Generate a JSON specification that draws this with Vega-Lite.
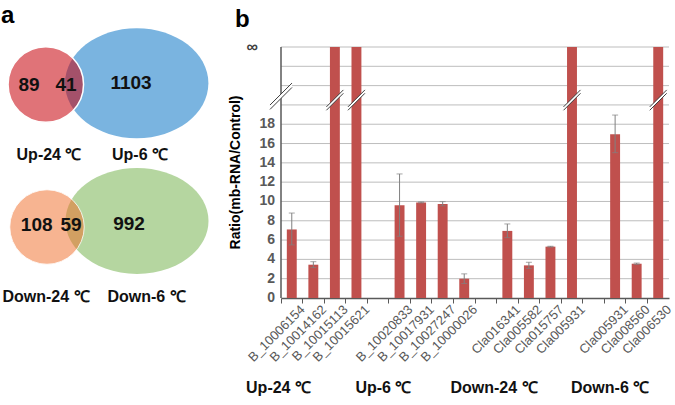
{
  "$schema": "https://vega.github.io/schema/vega-lite/v6.json",
  "padding": {"left": 0, "top": 4, "right": 0, "bottom": 0},
  "config": {
    "font": "Liberation Sans",
    "view": {"stroke": null},
    "concat": {"spacing": 8},
    "axisX": {"grid": false, "labelOverlap": false, "labelFontSize": 13, "labelColor": "#595959", "tickSize": 5, "tickColor": "#595959", "domainColor": "#595959", "domainWidth": 1.5}
  },
  "datasets": {
    "venn": [
      {"set": "Up-24 ℃", "x": 4.58, "y": 21.35},
      {"set": "Up-6 ℃", "x": 13.67, "y": 21.47},
      {"set": "Down-24 ℃", "x": 4.7, "y": 7.1},
      {"set": "Down-6 ℃", "x": 13.7, "y": 7.7}
    ],
    "counts": [
      {"n": "89", "x": 2.9, "y": 21.3},
      {"n": "41", "x": 6.6, "y": 21.3},
      {"n": "1103", "x": 13.1, "y": 21.55},
      {"n": "108", "x": 3.67, "y": 7.3},
      {"n": "59", "x": 7.1, "y": 7.3},
      {"n": "992", "x": 12.9, "y": 7.45}
    ],
    "setlabels": [
      {"label": "Up-24 ℃", "x": 4.9, "y": 14.3},
      {"label": "Up-6 ℃", "x": 14.0, "y": 14.3},
      {"label": "Down-24 ℃", "x": 4.6, "y": 0.1},
      {"label": "Down-6 ℃", "x": 14.65, "y": 0.1}
    ],
    "bars": [
      {"k": "B_10006154", "ratio": 7.1, "lo": 5.5, "hi": 8.8, "inf": false},
      {"k": "B_10014162", "ratio": 3.45, "lo": 3.15, "hi": 3.76, "inf": false},
      {"k": "B_10015113", "ratio": 26, "lo": null, "hi": null, "inf": true},
      {"k": "B_10015621", "ratio": 26, "lo": null, "hi": null, "inf": true},
      {"k": "B_10020833", "ratio": 9.6, "lo": 6.4, "hi": 12.85, "inf": false},
      {"k": "B_10017931", "ratio": 9.9, "lo": 9.85, "hi": 9.95, "inf": false},
      {"k": "B_10027247", "ratio": 9.75, "lo": 9.55, "hi": 9.98, "inf": false},
      {"k": "B_10000026", "ratio": 2.0, "lo": 1.5, "hi": 2.5, "inf": false},
      {"k": "Cla016341", "ratio": 6.95, "lo": 6.25, "hi": 7.67, "inf": false},
      {"k": "Cla005582", "ratio": 3.38, "lo": 3.05, "hi": 3.7, "inf": false},
      {"k": "Cla015757", "ratio": 5.32, "lo": 5.28, "hi": 5.36, "inf": false},
      {"k": "Cla005931|a", "ratio": 26, "lo": null, "hi": null, "inf": true},
      {"k": "Cla005931|b", "ratio": 16.97, "lo": 15.05, "hi": 18.95, "inf": false},
      {"k": "Cla008560", "ratio": 3.55, "lo": 3.48, "hi": 3.62, "inf": false},
      {"k": "Cla006530", "ratio": 26, "lo": null, "hi": null, "inf": true}
    ],
    "gridv": [{"g": 2}, {"g": 4}, {"g": 6}, {"g": 8}, {"g": 10}, {"g": 12}, {"g": 14}, {"g": 16}, {"g": 18}, {"g": 20}, {"g": 22}, {"g": 24}, {"g": 26}],
    "ylabels": [
      {"v": 0, "lab": "0"}, {"v": 2, "lab": "2"}, {"v": 4, "lab": "4"}, {"v": 6, "lab": "6"}, {"v": 8, "lab": "8"},
      {"v": 10, "lab": "10"}, {"v": 12, "lab": "12"}, {"v": 14, "lab": "14"}, {"v": 16, "lab": "16"}, {"v": 18, "lab": "18"}
    ],
    "groups": [
      {"g": "Up-24 ℃", "k": "B_10006154"},
      {"g": "Up-6 ℃", "k": "|1"},
      {"g": "Down-24 ℃", "k": "Cla016341"},
      {"g": "Down-6 ℃", "k": "Cla005931|b"}
    ]
  },
  "hconcat": [
    {
      "width": 220,
      "height": 251,
      "layer": [
        {
          "data": {"name": "venn"},
          "transform": [{"filter": "datum.set == 'Up-6 ℃'"}],
          "mark": {"type": "point", "shape": "M-1,0A1,0.767,0,1,0,1,0A1,0.767,0,1,0,-1,0Z", "size": 20564, "filled": true, "fill": "#7AB4E0", "opacity": 1, "strokeWidth": 0},
          "encoding": {
            "x": {"field": "x", "type": "quantitative", "scale": {"domain": [0, 22], "nice": false, "zero": false}, "axis": null},
            "y": {"field": "y", "type": "quantitative", "scale": {"domain": [0, 25.1], "nice": false, "zero": false}, "axis": null}
          }
        },
        {
          "data": {"name": "venn"},
          "transform": [{"filter": "datum.set == 'Up-24 ℃'"}],
          "mark": {"type": "point", "shape": "circle", "size": 5701, "filled": true, "fill": "#C70009", "fillOpacity": 0.55, "opacity": 1, "stroke": "#ffffff", "strokeWidth": 1.5, "strokeOpacity": 1},
          "encoding": {
            "x": {"field": "x", "type": "quantitative", "axis": null},
            "y": {"field": "y", "type": "quantitative", "axis": null}
          }
        },
        {
          "data": {"name": "venn"},
          "transform": [{"filter": "datum.set == 'Down-6 ℃'"}],
          "mark": {"type": "point", "shape": "M-1,0A1,0.741,0,1,0,1,0A1,0.741,0,1,0,-1,0Z", "size": 20449, "filled": true, "fill": "#B5D6A0", "opacity": 1, "strokeWidth": 0},
          "encoding": {
            "x": {"field": "x", "type": "quantitative", "axis": null},
            "y": {"field": "y", "type": "quantitative", "axis": null}
          }
        },
        {
          "data": {"name": "venn"},
          "transform": [{"filter": "datum.set == 'Down-24 ℃'"}],
          "mark": {"type": "point", "shape": "circle", "size": 5542, "filled": true, "fill": "#EF6923", "fillOpacity": 0.5, "opacity": 1, "stroke": "#ffffff", "strokeWidth": 1, "strokeOpacity": 0.8},
          "encoding": {
            "x": {"field": "x", "type": "quantitative", "axis": null},
            "y": {"field": "y", "type": "quantitative", "axis": null}
          }
        },
        {
          "data": {"name": "counts"},
          "mark": {"type": "text", "fontSize": 19, "fontWeight": "bold", "color": "#111111", "align": "center", "baseline": "middle"},
          "encoding": {
            "x": {"field": "x", "type": "quantitative", "axis": null},
            "y": {"field": "y", "type": "quantitative", "axis": null},
            "text": {"field": "n"}
          }
        },
        {
          "data": {"name": "setlabels"},
          "mark": {"type": "text", "fontSize": 16, "fontWeight": "bold", "color": "#111111", "align": "center", "baseline": "middle"},
          "encoding": {
            "x": {"field": "x", "type": "quantitative", "axis": null},
            "y": {"field": "y", "type": "quantitative", "axis": null},
            "text": {"field": "label"}
          }
        },
        {
          "data": {"values": [{"panel": "a"}]},
          "mark": {"type": "text", "fontSize": 24, "fontWeight": "bold", "color": "#000000", "align": "left", "baseline": "alphabetic"},
          "encoding": {
            "x": {"datum": 0.1, "type": "quantitative", "axis": null},
            "y": {"datum": 27.5, "type": "quantitative", "axis": null},
            "text": {"field": "panel"}
          }
        }
      ]
    },
    {
      "width": 388,
      "height": 251,
      "layer": [
        {
          "data": {"name": "gridv"},
          "mark": {"type": "rule", "color": "#BDBDBD", "strokeWidth": 1},
          "encoding": {
            "y": {"field": "g", "type": "quantitative", "scale": {"domain": [0, 26], "nice": false}, "axis": null}
          }
        },
        {
          "data": {"name": "bars"},
          "mark": {"type": "bar", "color": "#C0504D", "width": {"band": 0.46}},
          "encoding": {
            "x": {
              "field": "k", "type": "nominal",
              "scale": {"domain": ["B_10006154", "B_10014162", "B_10015113", "B_10015621", "|1", "B_10020833", "B_10017931", "B_10027247", "B_10000026", "|2", "Cla016341", "Cla005582", "Cla015757", "Cla005931|a", "|3", "Cla005931|b", "Cla008560", "Cla006530"], "paddingInner": 0, "paddingOuter": 0},
              "axis": {
                "title": null, "bandPosition": 0, "labelOffset": 11, "labelAngle": -45, "labelAlign": "right", "labelBaseline": "middle",
                "labelPadding": 4, "labelExpr": "split(datum.value, '|')[0]"
              }
            },
            "y": {"field": "ratio", "type": "quantitative", "axis": null}
          }
        },
        {
          "data": {"name": "bars"},
          "mark": {"type": "rule", "color": "#808080", "strokeWidth": 1},
          "encoding": {
            "x": {"field": "k", "type": "nominal"},
            "y": {"field": "lo", "type": "quantitative", "axis": null},
            "y2": {"field": "hi"}
          }
        },
        {
          "data": {"name": "bars"},
          "mark": {"type": "tick", "color": "#808080", "size": 6, "thickness": 1},
          "encoding": {
            "x": {"field": "k", "type": "nominal"},
            "y": {"field": "lo", "type": "quantitative", "axis": null}
          }
        },
        {
          "data": {"name": "bars"},
          "mark": {"type": "tick", "color": "#808080", "size": 6, "thickness": 1},
          "encoding": {
            "x": {"field": "k", "type": "nominal"},
            "y": {"field": "hi", "type": "quantitative", "axis": null}
          }
        },
        {
          "data": {"name": "bars"},
          "transform": [{"filter": "datum.inf"}],
          "mark": {"type": "point", "shape": "M-1,0.8L1,-1.2L1,-0.8L-1,1.2Z", "size": 289, "filled": true, "fill": "#ffffff", "opacity": 1, "strokeWidth": 0},
          "encoding": {
            "x": {"field": "k", "type": "nominal"},
            "y": {"datum": 20.5, "type": "quantitative", "axis": null}
          }
        },
        {
          "data": {"name": "bars"},
          "transform": [{"filter": "datum.inf"}],
          "mark": {"type": "point", "shape": "M-1,0.8L1,-1.2M-1,1.2L1,-0.8", "size": 289, "filled": false, "stroke": "#404040", "strokeWidth": 1, "opacity": 1},
          "encoding": {
            "x": {"field": "k", "type": "nominal"},
            "y": {"datum": 20.5, "type": "quantitative", "axis": null}
          }
        },
        {
          "data": {"values": [{"k": "B_10006154"}]},
          "mark": {"type": "rule", "color": "#595959", "strokeWidth": 1.5},
          "encoding": {
            "x": {"field": "k", "type": "nominal", "bandPosition": 0},
            "y": {"datum": 0, "type": "quantitative", "axis": null},
            "y2": {"datum": 26}
          }
        },
        {
          "data": {"values": [{"k": "B_10006154"}]},
          "mark": {"type": "point", "shape": "M-1,0.8L1,-1.2L1,-0.8L-1,1.2Z", "size": 484, "filled": true, "fill": "#ffffff", "opacity": 1, "strokeWidth": 0},
          "encoding": {
            "x": {"field": "k", "type": "nominal", "bandPosition": 0},
            "y": {"datum": 20.9, "type": "quantitative", "axis": null}
          }
        },
        {
          "data": {"values": [{"k": "B_10006154"}]},
          "mark": {"type": "point", "shape": "M-1,0.8L1,-1.2M-1,1.2L1,-0.8", "size": 484, "filled": false, "stroke": "#404040", "strokeWidth": 1, "opacity": 1},
          "encoding": {
            "x": {"field": "k", "type": "nominal", "bandPosition": 0},
            "y": {"datum": 20.9, "type": "quantitative", "axis": null}
          }
        },
        {
          "data": {"name": "ylabels"},
          "mark": {"type": "text", "fontSize": 14, "fontWeight": "bold", "color": "#595959", "align": "right", "baseline": "middle", "dx": -6},
          "encoding": {
            "x": {"datum": "B_10006154", "type": "nominal", "bandPosition": 0},
            "y": {"field": "v", "type": "quantitative", "axis": null},
            "text": {"field": "lab"}
          }
        },
        {
          "data": {"values": [{"v": 26, "lab": "∞"}]},
          "mark": {"type": "text", "fontSize": 16, "fontWeight": "bold", "color": "#404040", "align": "right", "baseline": "middle", "dx": -23},
          "encoding": {
            "x": {"datum": "B_10006154", "type": "nominal", "bandPosition": 0},
            "y": {"field": "v", "type": "quantitative", "axis": null},
            "text": {"field": "lab"}
          }
        },
        {
          "data": {"values": [{"t": "Ratio(mb-RNA/Control)"}]},
          "mark": {"type": "text", "fontSize": 14, "fontWeight": "bold", "color": "#000000", "align": "center", "baseline": "middle", "angle": 270, "dy": -45},
          "encoding": {
            "x": {"datum": "B_10006154", "type": "nominal", "bandPosition": 0},
            "y": {"datum": 13, "type": "quantitative", "axis": null},
            "text": {"field": "t"}
          }
        },
        {
          "data": {"values": [{"panel": "b"}]},
          "mark": {"type": "text", "fontSize": 24, "fontWeight": "bold", "color": "#000000", "align": "left", "baseline": "alphabetic", "dx": -46},
          "encoding": {
            "x": {"datum": "B_10006154", "type": "nominal", "bandPosition": 0},
            "y": {"datum": 28.07, "type": "quantitative", "axis": null},
            "text": {"field": "panel"}
          }
        },
        {
          "data": {"name": "groups"},
          "transform": [{"filter": "datum.g == 'Up-24 ℃' || datum.g == 'Down-24 ℃'"}],
          "mark": {"type": "text", "fontSize": 16, "fontWeight": "bold", "color": "#111111", "align": "center", "baseline": "middle", "dx": -2.5},
          "encoding": {
            "x": {"field": "k", "type": "nominal", "bandPosition": 0},
            "y": {"datum": -9.3, "type": "quantitative", "axis": null},
            "text": {"field": "g"}
          }
        },
        {
          "data": {"name": "groups"},
          "transform": [{"filter": "datum.g == 'Up-6 ℃'"}],
          "mark": {"type": "text", "fontSize": 16, "fontWeight": "bold", "color": "#111111", "align": "center", "baseline": "middle"},
          "encoding": {
            "x": {"field": "k", "type": "nominal", "bandPosition": 0.75},
            "y": {"datum": -9.3, "type": "quantitative", "axis": null},
            "text": {"field": "g"}
          }
        },
        {
          "data": {"name": "groups"},
          "transform": [{"filter": "datum.g == 'Down-6 ℃'"}],
          "mark": {"type": "text", "fontSize": 16, "fontWeight": "bold", "color": "#111111", "align": "center", "baseline": "middle"},
          "encoding": {
            "x": {"field": "k", "type": "nominal", "bandPosition": 0.27},
            "y": {"datum": -9.3, "type": "quantitative", "axis": null},
            "text": {"field": "g"}
          }
        }
      ]
    }
  ]
}
